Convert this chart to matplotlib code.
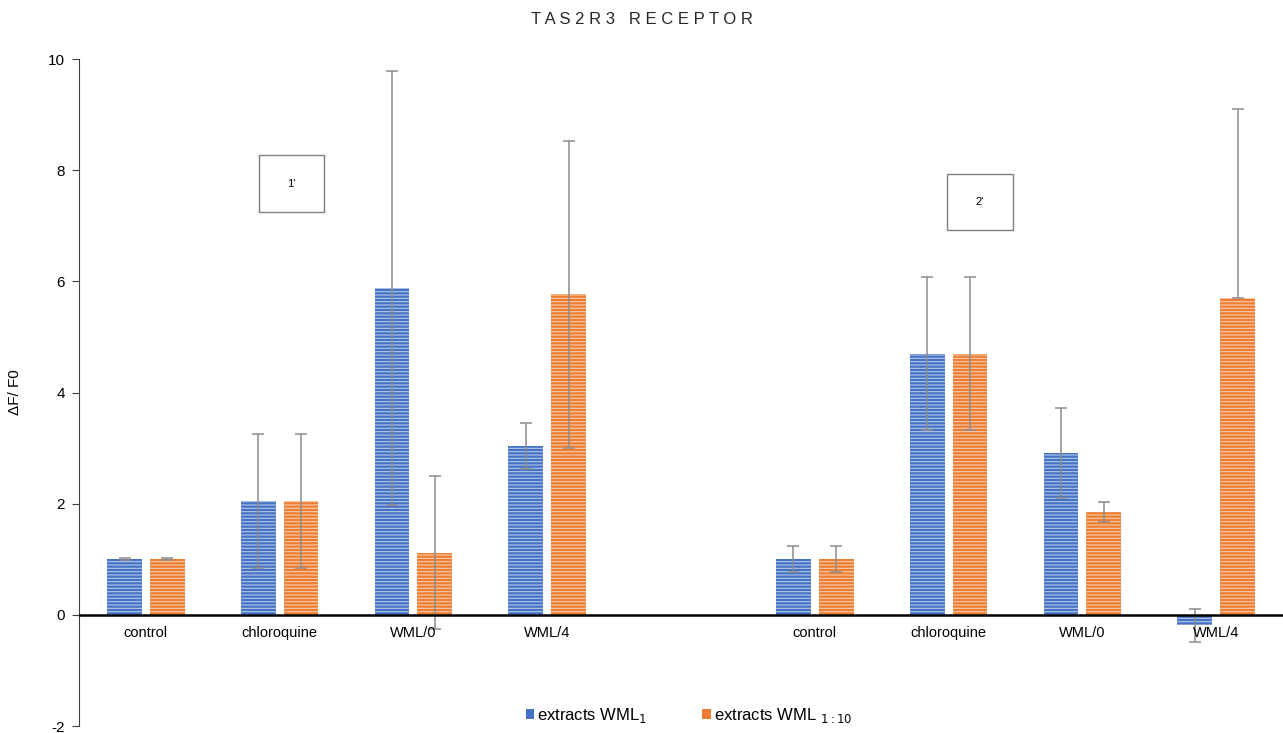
import numpy as np
import matplotlib.pyplot as plt
from matplotlib.patches import Rectangle, Patch

plt.rcParams['font.family'] = ['Liberation Sans', 'DejaVu Sans']
plt.rcParams['hatch.linewidth'] = 0.8
plt.rcParams['axes.unicode_minus'] = False

# dane (pozycja 4 = przerwa miedzy seriami 1' i 2')
categories = ['control', 'chloroquine', 'WML/0', 'WML/4', '',
              'control', 'chloroquine', 'WML/0', 'WML/4']
wml1 = [1.0, 2.05, 5.88, 3.04, np.nan, 1.0, 4.70, 2.92, -0.19]
wml1_err_lo = [0.02, 1.20, 3.90, 0.42, 0, 0.23, 1.37, 0.81, 0.30]
wml1_err_hi = [0.02, 1.20, 3.90, 0.42, 0, 0.23, 1.37, 0.81, 0.30]
wml110 = [1.0, 2.05, 1.12, 5.77, np.nan, 1.0, 4.70, 1.85, 5.70]
wml110_err_lo = [0.02, 1.20, 1.38, 2.76, 0, 0.23, 1.37, 0.18, 0.0]
wml110_err_hi = [0.02, 1.20, 1.38, 2.76, 0, 0.23, 1.37, 0.18, 3.40]

blue = '#4472C4'
orange = '#ED7D31'

fig = plt.figure(figsize=(12.83, 7.33), dpi=100)
ax = fig.add_axes([0.0616, 0.0095, 0.9384, 0.91])

x = np.arange(len(categories))
w = 0.26
d = 0.16
ax.bar(x - d, wml1, w, color=blue, edgecolor=(1, 1, 1, 0.6), linewidth=0,
       hatch='-----', zorder=2)
ax.bar(x + d, wml110, w, color=orange, edgecolor=(1, 1, 1, 0.6), linewidth=0,
       hatch='-----', zorder=2)
ax.errorbar(x - d, wml1, yerr=[wml1_err_lo, wml1_err_hi], fmt='none',
            ecolor='#8c8c8c', elinewidth=1.1, capsize=4, capthick=1.1, zorder=3)
ax.errorbar(x + d, wml110, yerr=[wml110_err_lo, wml110_err_hi], fmt='none',
            ecolor='#8c8c8c', elinewidth=1.1, capsize=4, capthick=1.1, zorder=3)

ax.axhline(0, color='black', linewidth=1.8, zorder=4)
for xi, lab in zip(x, categories):
    ax.text(xi, -0.2, lab, ha='center', va='top', fontsize=10.5, zorder=5)

ax.set_xlim(-0.5, 8.5)
ax.set_ylim(-2, 10)
ax.set_yticks(range(-2, 11, 2))
ax.set_xticks([])
ax.tick_params(axis='y', labelsize=11, length=5, pad=5, color='#404040')
for s in ['top', 'right', 'bottom']:
    ax.spines[s].set_visible(False)
ax.spines['left'].set_color('#404040')
ax.set_ylabel('ΔF/ F0', fontsize=11)
ax.yaxis.set_label_coords(-0.047, 0.5)

# ramki 1' i 2'
for (x0, x1, y0, y1, txt) in [(0.843, 1.328, 7.25, 8.27, "1'"),
                               (5.99, 6.48, 6.92, 7.93, "2'")]:
    ax.add_patch(Rectangle((x0, y0), x1 - x0, y1 - y0, fill=False,
                           edgecolor='#7f7f7f', linewidth=1, zorder=5))
    ax.text((x0 + x1) / 2, (y0 + y1) / 2, txt, ha='center', va='center',
            fontsize=8, zorder=6)

fig.text(0.5, 0.974, 'T A S 2 R 3   R E C E P T O R', ha='center',
         va='center', fontsize=12, color='#262626')

handles = [Patch(facecolor=blue), Patch(facecolor=orange)]
fig.legend(handles, [r'extracts WML$_1$', r'extracts WML $_{1:10}$'],
           loc='center', bbox_to_anchor=(0.537, 0.024), ncol=2, frameon=False,
           fontsize=12, handlelength=0.5, handleheight=0.5,
           handletextpad=0.2, columnspacing=3.3)

plt.savefig('out.png')
